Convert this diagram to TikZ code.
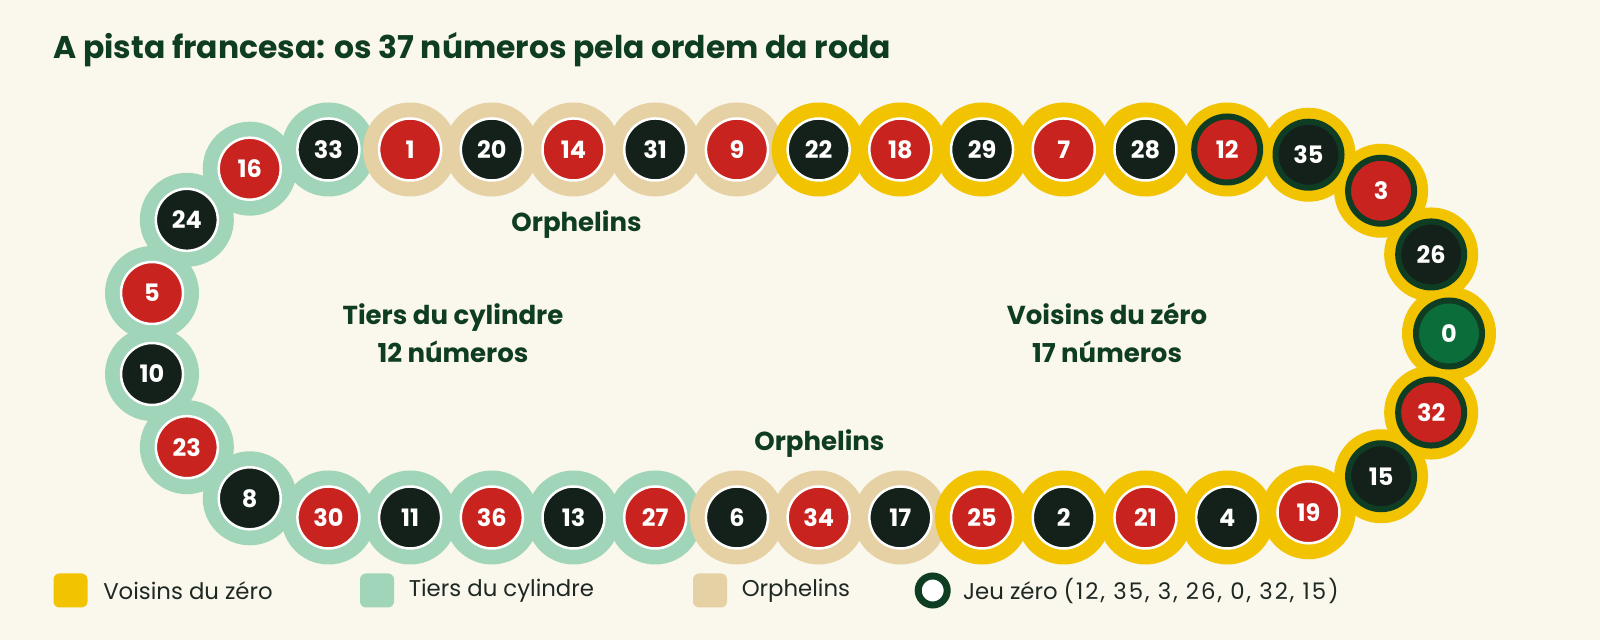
\documentclass[tikz,border=0pt]{standalone}
\usepackage{fontspec}
\setmainfont{Poppins}
\usetikzlibrary{calc,positioning}

\definecolor{cream}{HTML}{FAF7ED}
\definecolor{darkgreen}{HTML}{0F3D24}
\definecolor{inkgray}{HTML}{1E2822}
\definecolor{pocketred}{HTML}{C8231E}
\definecolor{pocketblack}{HTML}{14211A}
\definecolor{pocketgreen}{HTML}{0B6E3A}
\definecolor{voisinsyel}{HTML}{F2C300}
\definecolor{tiersmint}{HTML}{A1D5B9}
\definecolor{orphtan}{HTML}{E6D1A5}

\pgfdeclarelayer{rings}
\pgfsetlayers{rings,main}

\tikzset{
  pocket/.style={circle,inner sep=0pt,minimum size=31pt,draw=white,line width=1.25pt,
    text=white,font=\bfseries\fontsize{12}{12}\selectfont},
  jeu/.style={draw=darkgreen,line width=3pt,minimum size=33pt},
  rd/.style={fill=pocketred},
  bk/.style={fill=pocketblack},
  rdj/.style={rd,jeu},
  bkj/.style={bk,jeu},
  grj/.style={fill=pocketgreen,jeu},
  vz/.style={fill=voisinsyel},
  ti/.style={fill=tiersmint},
  orph/.style={fill=orphtan},
  zone/.style={text=darkgreen,align=center,font=\bfseries\fontsize{13}{18.8}\selectfont},
  swatch/.style={rounded corners=3pt,minimum size=17pt,inner sep=0pt},
  legtext/.style={text=inkgray,inner sep=0pt,anchor=west,font=\fontsize{11.4}{14}\selectfont}
}

\begin{document}
\begin{tikzpicture}[x=0.5pt,y=0.5pt]
\useasboundingbox (0,0) rectangle (1600,640);
\begin{pgfonlayer}{rings}
\fill[cream] (0,0) rectangle (1600,640);
\end{pgfonlayer}

\node[anchor=base west,inner sep=0pt,text=darkgreen,font=\bfseries\fontsize{15.7}{19}\selectfont]
  (title) at (53,581) {A pista francesa: os 37 números pela ordem da roda};

\coordinate (lc) at (331.5,306.5);
\coordinate (rc) at (1265,306.5);

% top row
\foreach \num/\col/\sec [count=\i from 0] in {33/bk/ti,1/rd/orph,20/bk/orph,14/rd/orph,
    31/bk/orph,9/rd/orph,22/bk/vz,18/rd/vz,29/bk/vz,7/rd/vz,28/bk/vz,12/rdj/vz}{
  \node[pocket,\col] (n\num) at (328.4+81.705*\i,490.5) {\num};
  \begin{pgfonlayer}{rings}\fill[\sec] (n\num.center) circle (47);\end{pgfonlayer}
}
% bottom row
\foreach \num/\col/\sec [count=\i from 0] in {30/rd/ti,11/bk/ti,36/rd/ti,13/bk/ti,
    27/rd/ti,6/bk/orph,34/rd/orph,17/bk/orph,25/rd/vz,2/bk/vz,21/rd/vz,4/bk/vz}{
  \node[pocket,\col] (n\num) at (328.4+81.705*\i,122.5) {\num};
  \begin{pgfonlayer}{rings}\fill[\sec] (n\num.center) circle (47);\end{pgfonlayer}
}
% right arc, jeu zero
\foreach \num/\col [count=\i from 0] in {19/rd,15/bkj,32/rdj,0/grj,26/bkj,3/rdj,35/bkj}{
  \node[pocket,\col] (n\num) at ($(rc)+({-76.33+25.442*\i}:184)$) {\num};
  \begin{pgfonlayer}{rings}\fill[vz] (n\num.center) circle (47);\end{pgfonlayer}
}
% left arc
\foreach \num/\col [count=\i from 0] in {16/rd,24/bk,5/rd,10/bk,23/rd,8/bk}{
  \node[pocket,\col] (n\num) at ($(lc)+({116.4+25.442*\i}:184)$) {\num};
  \begin{pgfonlayer}{rings}\fill[ti] (n\num.center) circle (47);\end{pgfonlayer}
}

\node[zone] (orphtop) at (576.5,415.5) {Orphelins};
\node[zone] (tiers) at (453,307) {Tiers du cylindre\\12 números};
\node[zone] (voisins) at (1107,307) {Voisins du zéro\\17 números};
\node[zone] (orphbot) at (819.4,196) {Orphelins};

% legend
\node[swatch,fill=voisinsyel] (lgvz) at (70.5,49.5) {};
\node[legtext,right=7.5pt of lgvz] (lgvztxt) {Voisins du zéro};
\node[swatch,fill=tiersmint] (lgti) at (377,49.5) {};
\node[legtext,right=7pt of lgti] (lgtitxt) {Tiers du cylindre};
\node[swatch,fill=orphtan] (lgor) at (710,49.5) {};
\node[legtext,right=7pt of lgor] (lgortxt) {Orphelins};
\node[circle,draw=darkgreen,line width=3.5pt,fill=white,minimum size=14.5pt,inner sep=0pt]
  (lgjeu) at (932.7,49.5) {};
\node[legtext,right=6pt of lgjeu]
  (lgjeutxt) {Jeu zéro {\addfontfeature{LetterSpace=9}(12, 35, 3, 26, 0, 32, 15)}};
\end{tikzpicture}
\end{document}
